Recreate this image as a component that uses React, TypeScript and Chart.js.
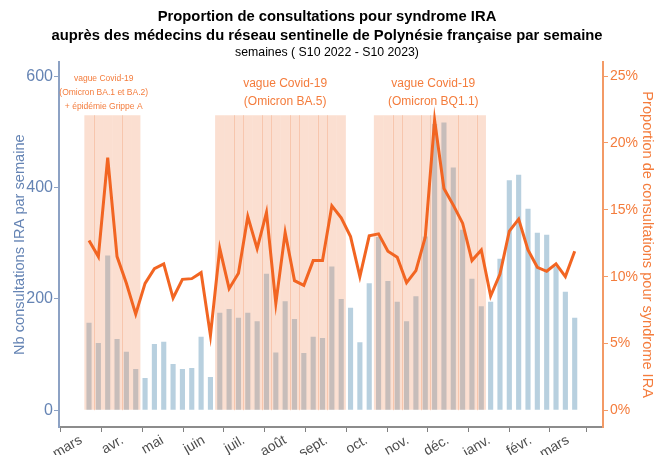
import React, { useEffect, useRef } from "react";
import { Chart, registerables } from "chart.js";

Chart.register(...registerables);

// ---- Data ----
const weekStarts = [
  "2022-03-07", "2022-03-14", "2022-03-21", "2022-03-28", "2022-04-04", "2022-04-11",
  "2022-04-18", "2022-04-25", "2022-05-02", "2022-05-09", "2022-05-16", "2022-05-23",
  "2022-05-30", "2022-06-06", "2022-06-13", "2022-06-20", "2022-06-27", "2022-07-04",
  "2022-07-11", "2022-07-18", "2022-07-25", "2022-08-01", "2022-08-08", "2022-08-15",
  "2022-08-22", "2022-08-29", "2022-09-05", "2022-09-12", "2022-09-19", "2022-09-26",
  "2022-10-03", "2022-10-10", "2022-10-17", "2022-10-24", "2022-10-31", "2022-11-07",
  "2022-11-14", "2022-11-21", "2022-11-28", "2022-12-05", "2022-12-12", "2022-12-19",
  "2022-12-26", "2023-01-02", "2023-01-09", "2023-01-16", "2023-01-23", "2023-01-30",
  "2023-02-06", "2023-02-13", "2023-02-20", "2023-02-27", "2023-03-06",
];

const consultations = [
  157, 121, 278, 128, 105, 74, 58, 119, 123, 83, 74, 76, 132, 60, 175, 182, 166, 175,
  160, 245, 104, 196, 164, 103, 132, 130, 258, 200, 184, 122, 228, 311, 232, 195, 160,
  205, 312, 514, 517, 436, 324, 236, 187, 195, 272, 413, 423, 362, 319, 315, 258, 213, 166,
];

const proportionPct = [
  12.7, 11.5, 18.9, 11.5, 9.5, 7.2, 9.5, 10.6, 10.95, 8.4, 9.8, 9.85, 10.3, 5.6, 12.1,
  9.1, 10.25, 14.5, 12.1, 14.8, 8.0, 13.3, 9.7, 9.35, 11.2, 11.2, 15.3, 14.4, 13.0, 10.0,
  13.05, 13.2, 11.9, 11.45, 9.55, 10.45, 12.95, 21.7, 16.6, 15.35, 14.0, 11.2, 12.0, 8.55,
  10.2, 13.4, 14.3, 12.0, 10.7, 10.4, 10.95, 10.0, 11.9,
];

// Epidemic waves (first and last week of each shaded period)
const waveStarts = ["2022-03-07", "2022-06-13", "2022-10-10"];
const waveEnds = ["2022-04-11", "2022-09-12", "2022-12-26"];
const waveBandTop = 530;
const waveLabels = [
  ["vague Covid-19", "(Omicron BA.1 et BA.2)", "+ épidémie Grippe A"],
  ["vague Covid-19", "(Omicron BA.5)"],
  ["vague Covid-19", "(Omicron BQ1.1)"],
];
const waveLabelDates = ["2022-03-18", "2022-08-01", "2022-11-20"];
const waveLabelValues = [[596, 571, 546], [587, 555], [587, 555]];
const waveLabelSizes = [8.5, 12, 12];
// week indices (1-based) after which a faint seam is visible in the shading
const seamAfterWeeks = [1, 4, 16, 17, 19, 20, 22, 23, 25, 26, 33, 34, 36, 37, 40, 42];

const monthTicks = [
  "2022-03-01", "2022-04-01", "2022-05-01", "2022-06-01", "2022-07-01", "2022-08-01",
  "2022-09-01", "2022-10-01", "2022-11-01", "2022-12-01", "2023-01-01", "2023-02-01", "2023-03-01",
];
const monthLabels = [
  "mars", "avr.", "mai", "juin", "juil.", "août", "sept.", "oct.", "nov.", "déc.", "janv.", "févr.", "mars",
];
const leftTicks = [0, 200, 400, 600];
const rightTicks = [0, 5, 10, 15, 20, 25];

const titleLines = [
  "Proportion de consultations pour syndrome IRA",
  "auprès des médecins du réseau sentinelle de Polynésie française par semaine",
];
const subtitleText = "semaines ( S10 2022 - S10 2023)";
const leftTitle = "Nb consultations IRA par semaine";
const rightTitle = "Proportion de consultations pour syndrome IRA";

const xRangeStart = "2022-02-12T12:00:00Z";
const xRangeEnd = "2023-03-27T05:00:00Z";

// ---- Styles ----
const FONT = "'Liberation Sans', Arial, sans-serif";
const BLUE_BAR = "#b8d0df";
const BAND = "rgba(242,140,90,0.28)";
const SEAM = "rgba(238,140,90,0.3)";
const LINE = "#f26522";
const ORANGE_TXT = "#f47c3c";
const ORANGE_AXIS = "#f39a66";
const BLUE_TXT = "#6584b4";
const BLUE_AXIS = "#8da2c4";

const toTs = (d: string) => Date.parse(d.length === 10 ? d + "T00:00:00Z" : d);

export default function App() {
  const ref = useRef<HTMLCanvasElement>(null);

  useEffect(() => {
    const canvas = ref.current;
    if (!canvas) return;
    Chart.defaults.font.family = FONT;

    const xs = weekStarts.map(toTs);
    const inWave = (t: number) =>
      waveStarts.some((s, i) => t >= toTs(s) && t <= toTs(waveEnds[i]));

    const barData = xs.map((x, i) => ({ x, y: consultations[i] }));
    const bandData = xs.filter(inWave).map((x) => ({ x, y: waveBandTop }));
    const lineData = xs.map((x, i) => ({ x, y: proportionPct[i] }));

    const seamPlugin = {
      id: "seams",
      afterDatasetDraw(chart: any, args: any) {
        if (args.index !== 1) return;
        const ctx = chart.ctx;
        const xS = chart.scales.x;
        const yS = chart.scales.y;
        ctx.save();
        ctx.strokeStyle = SEAM;
        ctx.lineWidth = 1;
        const y0 = yS.getPixelForValue(0);
        const y1 = yS.getPixelForValue(waveBandTop);
        for (const w of seamAfterWeeks) {
          const mid = (xs[w - 1] + xs[w]) / 2;
          const px = Math.round(xS.getPixelForValue(mid)) + 0.5;
          ctx.beginPath();
          ctx.moveTo(px, y0);
          ctx.lineTo(px, y1);
          ctx.stroke();
        }
        ctx.restore();
      },
    };

    const labelPlugin = {
      id: "waveLabels",
      afterDatasetsDraw(chart: any) {
        const ctx = chart.ctx;
        const xS = chart.scales.x;
        const yS = chart.scales.y;
        ctx.save();
        ctx.fillStyle = ORANGE_TXT;
        ctx.textAlign = "center";
        ctx.textBaseline = "middle";
        waveLabels.forEach((lines, i) => {
          ctx.font = `${waveLabelSizes[i]}px ${FONT}`;
          const px = xS.getPixelForValue(toTs(waveLabelDates[i]));
          lines.forEach((t, j) => {
            ctx.fillText(t, px, yS.getPixelForValue(waveLabelValues[i][j]));
          });
        });
        ctx.restore();
      },
    };

    const chart = new Chart(canvas, {
      type: "bar",
      data: {
        datasets: [
          {
            type: "line",
            data: lineData,
            yAxisID: "y1",
            borderColor: LINE,
            borderWidth: 3,
            pointRadius: 0,
            tension: 0,
            order: 0,
          } as any,
          {
            type: "bar",
            data: bandData,
            yAxisID: "y",
            backgroundColor: BAND,
            grouped: false,
            categoryPercentage: 1,
            barPercentage: 1,
            inflateAmount: 0,
            order: 1,
          } as any,
          {
            type: "bar",
            data: barData,
            yAxisID: "y",
            backgroundColor: BLUE_BAR,
            grouped: false,
            categoryPercentage: 1,
            barPercentage: 0.55,
            inflateAmount: 0,
            order: 2,
          } as any,
        ],
      },
      options: {
        responsive: false,
        animation: false,
        layout: { padding: 0 },
        plugins: {
          legend: { display: false },
          tooltip: { enabled: false },
          title: {
            display: true,
            text: titleLines,
            color: "#000",
            font: { size: 14.8, weight: "bold", lineHeight: 1.3 },
            padding: { top: 7, bottom: 0 },
          },
          subtitle: {
            display: true,
            text: subtitleText,
            color: "#000",
            font: { size: 12.3 },
            padding: { top: 0, bottom: 2 },
          },
        },
        scales: {
          x: {
            type: "linear",
            position: "bottom",
            min: toTs(xRangeStart),
            max: toTs(xRangeEnd),
            offset: false,
            afterBuildTicks: (s: any) => {
              s.ticks = monthTicks.map((d) => ({ value: toTs(d) }));
            },
            afterFit: (s: any) => {
              s.height = 28;
            },
            ticks: {
              callback: (_v: any, i: number) => monthLabels[i],
              autoSkip: false,
              minRotation: 30,
              maxRotation: 30,
              color: "#4d4d4d",
              font: { size: 14 },
              padding: 0,
            },
            grid: {
              display: true,
              drawOnChartArea: false,
              drawTicks: true,
              tickLength: 5,
              color: "#7f7f7f",
            },
            border: { display: true, color: "#8c8c8c", width: 2 },
          },
          y: {
            position: "left",
            min: -30,
            max: 625,
            afterBuildTicks: (s: any) => {
              s.ticks = leftTicks.map((v) => ({ value: v }));
            },
            afterFit: (s: any) => {
              s.width = 59;
            },
            ticks: { color: BLUE_TXT, font: { size: 16 }, padding: 1 },
            grid: {
              display: true,
              drawOnChartArea: false,
              drawTicks: true,
              tickLength: 5,
              color: BLUE_AXIS,
            },
            border: { display: true, color: BLUE_AXIS, width: 2 },
            title: {
              display: true,
              text: leftTitle,
              color: BLUE_TXT,
              font: { size: 14.6 },
              padding: { top: 11, bottom: 0 },
            },
          },
          y1: {
            position: "right",
            min: -1.25,
            max: 625 / 24,
            afterBuildTicks: (s: any) => {
              s.ticks = rightTicks.map((v) => ({ value: v }));
            },
            afterFit: (s: any) => {
              s.width = 51;
            },
            ticks: {
              color: ORANGE_TXT,
              font: { size: 14 },
              padding: 2,
              callback: (v: any) => `${v}%`,
            },
            grid: {
              display: true,
              drawOnChartArea: false,
              drawTicks: true,
              tickLength: 5,
              color: ORANGE_AXIS,
            },
            border: { display: true, color: ORANGE_AXIS, width: 2 },
            title: {
              display: true,
              text: rightTitle,
              color: ORANGE_TXT,
              font: { size: 14.6 },
              padding: { top: -2, bottom: 0 },
            },
          },
        },
      } as any,
      plugins: [seamPlugin, labelPlugin],
    });

    return () => chart.destroy();
  }, []);

  return (
    <div style={{ position: "fixed", left: 0, top: 0, width: 654, height: 455, background: "#fff" }}>
      <canvas ref={ref} width={654} height={455} style={{ display: "block" }} />
    </div>
  );
}
